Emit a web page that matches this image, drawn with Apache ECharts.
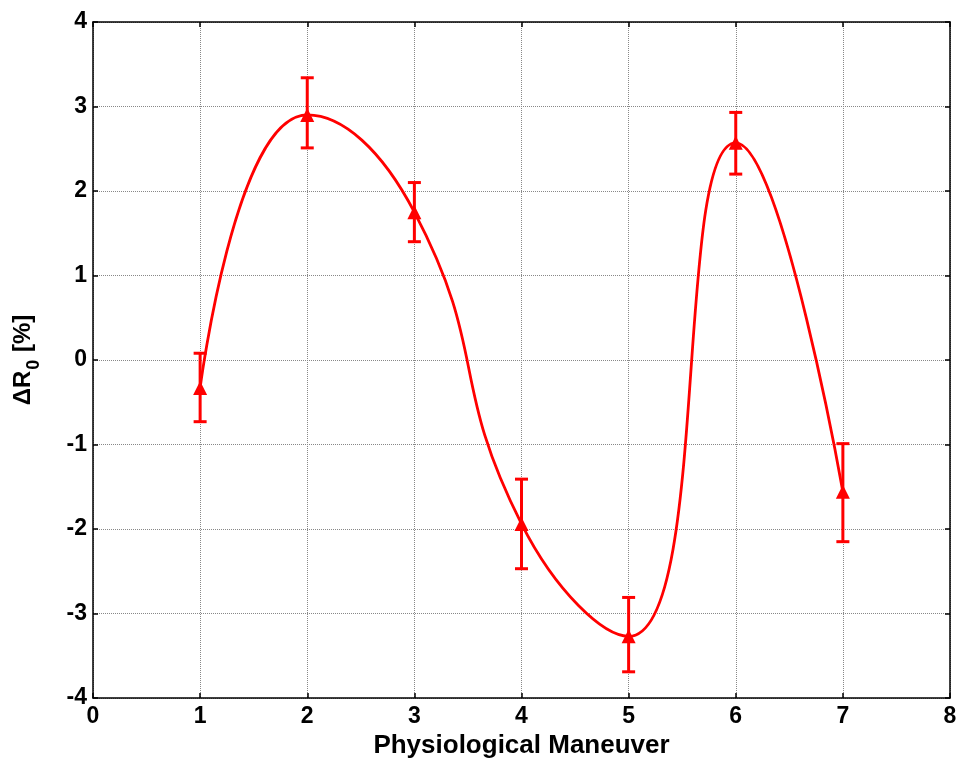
<!DOCTYPE html>
<html>
<head>
<meta charset="utf-8">
<script src="https://cdn.jsdelivr.net/npm/echarts@6/dist/echarts.min.js"></script>
<style>
    html, body { margin: 0; padding: 0; background: #fff; }
    #chart { width: 960px; height: 763px; }
</style>
</head>
<body>
<div id="chart"></div>
<script>
// 动作序号
var maneuvers = [1, 2, 3, 4, 5, 6, 7];
// 均值
var meanValues = [-0.33, 2.90, 1.75, -1.94, -3.27, 2.57, -1.56];
// 误差棒上下端
var errTop = [0.08, 3.34, 2.10, -1.41, -2.81, 2.93, -0.99];
var errBottom = [-0.73, 2.51, 1.40, -2.47, -3.69, 2.20, -2.15];
// 刻度
var xTicks = [0, 8, 1];
var yTicks = [-4, 4, 1];

var lineData = maneuvers.map(function (x, i) {
    return [x, meanValues[i]];
});
var errData = maneuvers.map(function (x, i) {
    return [x, errBottom[i], errTop[i]];
});

var fontFam = 'Liberation Sans, Arial, sans-serif';

function labelFont(size, extra) {
    var o = { color: '#000', fontSize: size, fontWeight: 'bold', fontFamily: fontFam };
    for (var k in extra) o[k] = extra[k];
    return o;
}

function baseAxis(min, max, interval) {
    return {
        type: 'value',
        min: min,
        max: max,
        interval: interval,
        axisLine: { show: true, onZero: false, lineStyle: { color: '#000', width: 1.5 } },
        axisTick: { show: true, inside: true, length: 5, lineStyle: { color: '#000', width: 1.5 } },
        splitLine: { show: true, lineStyle: { color: '#888', type: [1, 1], width: 1 } },
        axisLabel: labelFont(23)
    };
}

var xBottom = baseAxis(xTicks[0], xTicks[1], xTicks[2]);
xBottom.axisLabel = labelFont(23, { margin: 7 });
xBottom.name = 'Physiological Maneuver';
xBottom.nameLocation = 'middle';
xBottom.nameGap = 22;
xBottom.nameTextStyle = labelFont(26, { verticalAlign: 'top' });

var xTop = baseAxis(xTicks[0], xTicks[1], xTicks[2]);
xTop.position = 'top';
xTop.axisLabel = { show: false };
xTop.splitLine = { show: false };

var yLeft = baseAxis(yTicks[0], yTicks[1], yTicks[2]);
yLeft.axisLabel = labelFont(23, { margin: 6 });
yLeft.name = '{a|ΔR}{b|0}{a| [%]}';
yLeft.nameLocation = 'middle';
yLeft.nameRotate = 90;
yLeft.nameGap = 48;
yLeft.nameTextStyle = {
    rich: {
        a: labelFont(24, { padding: [0, 0, 10, 0] }),
        b: labelFont(18, { padding: [13, 1, 0, 1] })
    }
};

var yRight = baseAxis(yTicks[0], yTicks[1], yTicks[2]);
yRight.position = 'right';
yRight.axisLabel = { show: false };
yRight.splitLine = { show: false };

var myChart = echarts.init(document.getElementById('chart'));
var option = {
    backgroundColor: '#fff',
    animation: false,
    grid: { left: 93, right: 10, top: 22, bottom: 65, outerBoundsMode: 'none', containLabel: false },
    xAxis: [xBottom, xTop],
    yAxis: [yLeft, yRight],
    series: [
        {
            type: 'line',
            data: lineData,
            smooth: 0.5,
            symbol: 'triangle',
            symbolSize: 14,
            lineStyle: { color: '#ff0000', width: 2.8 },
            itemStyle: { color: '#ff0000' },
            z: 3
        },
        {
            type: 'custom',
            data: errData,
            z: 2,
            renderItem: function (params, api) {
                var x = api.value(0);
                var lo = api.coord([x, api.value(1)]);
                var hi = api.coord([x, api.value(2)]);
                var half = 6.5;
                var style = { stroke: '#ff0000', lineWidth: 3 };
                return {
                    type: 'group',
                    children: [
                        { type: 'line', shape: { x1: lo[0], y1: lo[1], x2: hi[0], y2: hi[1] }, style: style },
                        { type: 'line', shape: { x1: hi[0] - half, y1: hi[1], x2: hi[0] + half, y2: hi[1] }, style: style },
                        { type: 'line', shape: { x1: lo[0] - half, y1: lo[1], x2: lo[0] + half, y2: lo[1] }, style: style }
                    ]
                };
            }
        }
    ]
};
myChart.setOption(option);
</script>
</body>
</html>
